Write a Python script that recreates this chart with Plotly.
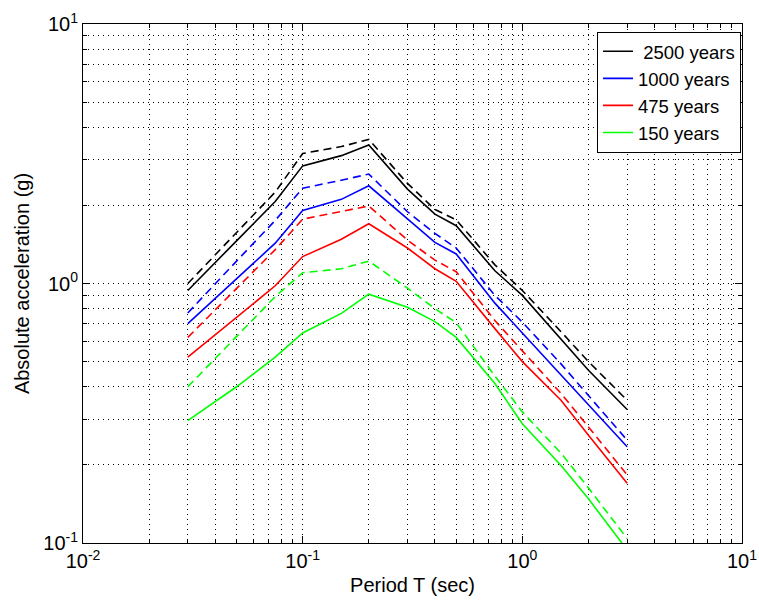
import plotly.graph_objects as go

periods = [0.03, 0.04, 0.05, 0.075, 0.1, 0.15, 0.2, 0.3, 0.4, 0.5, 0.75, 1.0, 1.5, 2.0, 3.0]

y2500 = [0.94, 1.20, 1.46, 2.07, 2.84, 3.11, 3.42, 2.31, 1.85, 1.67, 1.12, 0.90, 0.61, 0.463, 0.327]
y2500_dash = [1.00, 1.29, 1.57, 2.25, 3.17, 3.37, 3.59, 2.43, 1.93, 1.76, 1.18, 0.94, 0.652, 0.50, 0.355]
y1000 = [0.70, 0.876, 1.04, 1.43, 1.91, 2.11, 2.38, 1.77, 1.44, 1.30, 0.84, 0.645, 0.444, 0.34, 0.235]
y1000_dash = [0.77, 1.00, 1.22, 1.75, 2.33, 2.50, 2.64, 1.89, 1.56, 1.37, 0.90, 0.71, 0.49, 0.37, 0.249]
y475 = [0.52, 0.634, 0.74, 0.98, 1.27, 1.48, 1.70, 1.37, 1.14, 1.02, 0.67, 0.50, 0.355, 0.26, 0.17]
y475_dash = [0.62, 0.79, 0.957, 1.35, 1.77, 1.89, 1.99, 1.47, 1.23, 1.11, 0.72, 0.55, 0.377, 0.28, 0.183]
y150 = [0.296, 0.35, 0.40, 0.52, 0.645, 0.767, 0.91, 0.81, 0.713, 0.62, 0.412, 0.288, 0.199, 0.148, 0.094]
y150_dash = [0.40, 0.514, 0.625, 0.89, 1.10, 1.14, 1.22, 0.96, 0.80, 0.706, 0.44, 0.32, 0.222, 0.163, 0.104]

series_names = [" 2500 years", "1000 years", "475 years", "150 years"]
series_colors = ["#000000", "#0000FF", "#FF0000", "#00FF00"]
solid_vals = [y2500, y1000, y475, y150]
dash_vals = [y2500_dash, y1000_dash, y475_dash, y150_dash]

tick_vals = [0.01, 0.1, 1, 10]
x_tick_text = ["10<sup>-2</sup>", "10<sup>-1</sup>", "10<sup>0</sup>", "10<sup>1</sup>"]
y_tick_vals = [0.1, 1, 10]
y_tick_text = ["10<sup>-1</sup>", "10<sup>0</sup>", "10<sup>1</sup>"]

fig = go.Figure()
for name, color, vals in zip(series_names, series_colors, solid_vals):
    fig.add_trace(go.Scatter(x=periods, y=vals, mode="lines", name=name,
                             line=dict(color=color, width=1.6)))
for name, color, vals in zip(series_names, series_colors, dash_vals):
    fig.add_trace(go.Scatter(x=periods, y=vals, mode="lines", name=name + " (dash)",
                             showlegend=False,
                             line=dict(color=color, width=1.6, dash="8px,5px")))

font_family = "Liberation Sans, Arial, Helvetica, sans-serif"
axis_common = dict(
    type="log", automargin=False,
    showline=True, linecolor="black", linewidth=1, mirror="allticks",
    ticks="inside", ticklen=7, tickcolor="black", tickwidth=1,
    showgrid=True, gridcolor="black", gridwidth=1, griddash="1px,4px",
    zeroline=False,
    tickfont=dict(family=font_family, size=20, color="black"),
    minor=dict(dtick="D1", ticks="inside", ticklen=4, tickcolor="black",
               showgrid=True, gridcolor="black", gridwidth=1, griddash="1px,4px"),
)

fig.update_layout(
    width=759, height=601,
    margin=dict(l=83, r=17, t=24, b=58),
    paper_bgcolor="white", plot_bgcolor="white",
    font=dict(family=font_family, size=20, color="black"),
    showlegend=True,
    legend=dict(x=0.9985, y=0.985, xanchor="right", yanchor="top",
                bgcolor="white", bordercolor="black", borderwidth=1,
                font=dict(family=font_family, size=18.5, color="black"),
                tracegroupgap=0, itemwidth=30,
                entrywidth=132, entrywidthmode="pixels"),
    xaxis=dict(axis_common, range=[-2, 1], tickvals=tick_vals, ticktext=x_tick_text,
               title=dict(text="Period T (sec)", font=dict(size=20), standoff=6)),
    yaxis=dict(axis_common, range=[-1, 1], tickvals=y_tick_vals, ticktext=y_tick_text,
               title=dict(text="Absolute acceleration (g)", font=dict(size=20), standoff=8)),
)

fig.write_html("out.html", config={"displayModeBar": False},
               post_script="document.body.style.margin='0';document.body.style.overflow='hidden';")
